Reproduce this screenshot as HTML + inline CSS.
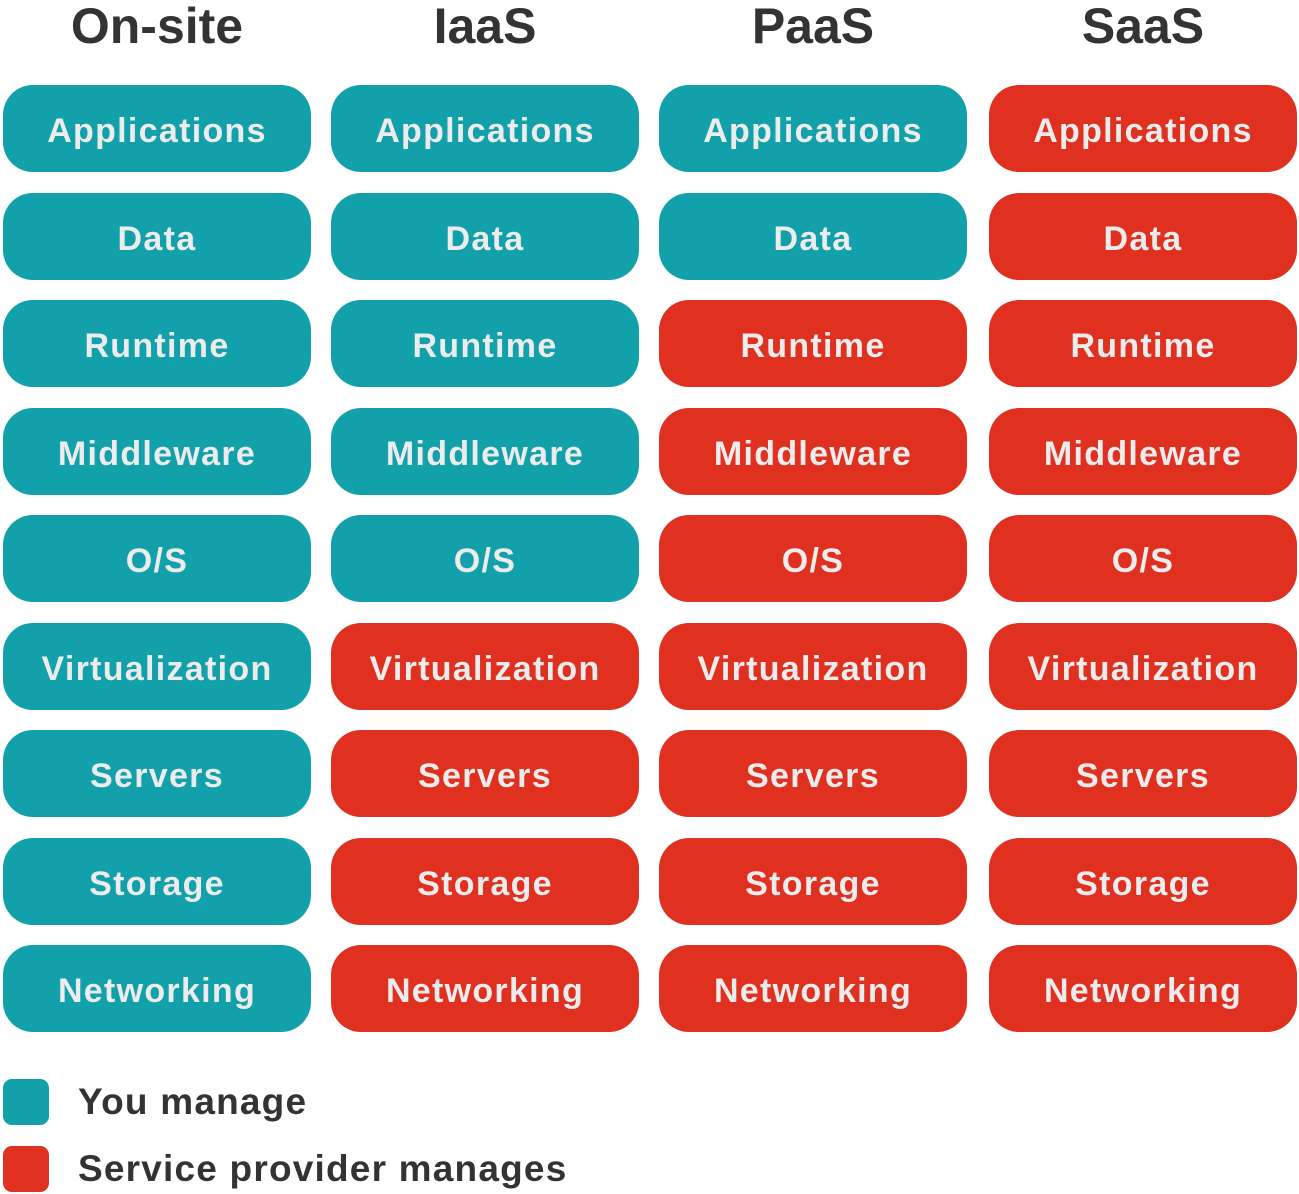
<!DOCTYPE html>
<html><head><style>
body{margin:0;width:1299px;height:1194px;background:#fff;position:relative;overflow:hidden;font-family:"Liberation Sans",sans-serif;}
.h{position:absolute;top:-4px;width:308px;text-align:center;font-size:50px;font-weight:bold;color:#333;line-height:60px;}
.b{position:absolute;width:308px;height:87px;border-radius:30px;color:#ececec;font-weight:bold;font-size:34px;line-height:93px;text-align:center;letter-spacing:1.3px;}
.t{background:#12a0aa}.r{background:#e0301f}
.sq{position:absolute;left:3px;width:46px;height:46px;border-radius:9px}
.lg{position:absolute;left:78px;font-size:37px;font-weight:bold;color:#333;line-height:46px;letter-spacing:1.2px}
</style></head><body>
<div class="h" style="left:3px">On-site</div>
<div class="h" style="left:331px">IaaS</div>
<div class="h" style="left:659px">PaaS</div>
<div class="h" style="left:989px">SaaS</div>
<div id="g"></div>
<script>
var L=["Applications","Data","Runtime","Middleware","O/S","Virtualization","Servers","Storage","Networking"];
var X=[3,331,659,989],red=[99,5,2,0],h="";
for(var c=0;c<4;c++)for(var i=0;i<9;i++){h+='<div class="b '+(i>=red[c]?'r':'t')+'" style="left:'+X[c]+'px;top:'+(85+i*107.5)+'px">'+L[i]+'</div>';}
document.getElementById("g").innerHTML=h;
</script>
<div class="sq t" style="top:1079px"></div><div class="lg" style="top:1079px">You manage</div>
<div class="sq r" style="top:1146px"></div><div class="lg" style="top:1146px">Service provider manages</div>
</body></html>
